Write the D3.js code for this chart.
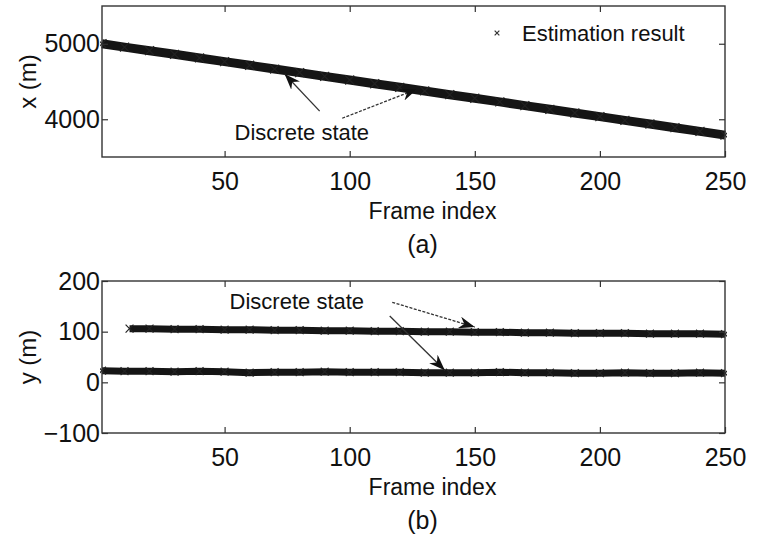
<!DOCTYPE html>
<html>
<head>
<meta charset="utf-8">
<script src="https://cdn.jsdelivr.net/npm/d3@7"></script>
<style>
  body { margin: 0; background: #fff; }
  text { font-family: "Liberation Sans", Arial, sans-serif; fill: #111; }
</style>
</head>
<body>
<script>
// frames (every 10 frames)
var framesA = [1, 10, 20, 30, 40, 50, 60, 70, 80, 90, 100, 110, 120, 130, 140, 150, 160, 170, 180, 190, 200, 210, 220, 230, 240, 250];
var xEst = [5000, 4955, 4908, 4860, 4812, 4763, 4715, 4665, 4617, 4568, 4520, 4470, 4423, 4375, 4325, 4278, 4230, 4180, 4132, 4083, 4035, 3985, 3937, 3888, 3840, 3790];

var framesB1 = [12, 20, 30, 40, 50, 60, 70, 80, 90, 100, 110, 120, 130, 140, 150, 160, 170, 180, 190, 200, 210, 220, 230, 240, 250];
var yEst1 = [106, 106, 105, 105, 104, 104, 103, 103, 102, 102, 101, 101, 100, 100, 99, 99, 98, 98, 97, 97, 97, 96, 96, 96, 95];
var framesB2 = framesA;
var yEst2 = [23, 22, 22, 21, 22, 21, 19, 20, 20, 21, 20, 20, 20, 19, 19, 19, 20, 19, 19, 18, 18, 19, 18, 18, 19, 18];

var xTicks = [50, 100, 150, 200, 250];
var yTicksA = [4000, 5000];
var yTicksB = [-100, 0, 100, 200];

// annotation arrows, in data units [frame, value]
var arrowsA = [
  {from: [88, 4107], to: [74, 4600], dash: null},
  {from: [97, 4013], to: [127, 4400], dash: "3,1.5"}
];
var arrowsB = [
  {from: [117, 158], to: [150, 109], dash: "3,1.5"},
  {from: [116, 131], to: [138, 24], dash: null}
];

var W = 764, H = 536;
var left = 102, pw = 623;

var svg = d3.select("body").append("svg")
  .attr("width", W).attr("height", H);

var defs = svg.append("defs");
defs.append("marker")
  .attr("id", "head")
  .attr("viewBox", "0 0 16 12")
  .attr("refX", 16).attr("refY", 6)
  .attr("markerWidth", 16).attr("markerHeight", 12)
  .attr("markerUnits", "userSpaceOnUse")
  .attr("orient", "auto")
  .append("path")
  .attr("d", "M0,0 L16,6 L0,12 L5,6 Z")
  .attr("fill", "#111");

var x = d3.scaleLinear().domain([1, 250]).range([0, pw]);

function panel(top, ph, yDomain, yTicks, yLabel, sub, series, arrows, note) {
  var y = d3.scaleLinear().domain(yDomain).range([ph, 0]);
  var g = svg.append("g").attr("transform", "translate(" + left + "," + top + ")");

  var clipId = "clip" + top;
  defs.append("clipPath").attr("id", clipId)
    .append("rect").attr("x", -2).attr("width", pw + 4).attr("height", ph);

  var plot = g.append("g").attr("clip-path", "url(#" + clipId + ")");

  // series: dense estimates drawn as a thick band of x markers
  series.forEach(function(s) {
    var pts = s.f.map(function(f, i) { return [f, s.v[i]]; });
    plot.append("path")
      .datum(pts)
      .attr("d", d3.line().x(function(d) { return x(d[0]); }).y(function(d) { return y(d[1]); }))
      .attr("fill", "none")
      .attr("stroke", "#151515")
      .attr("stroke-width", s.w)
      .attr("stroke-linecap", "butt");
    plot.selectAll(null)
      .data(pts)
      .enter()
      .append("path")
      .attr("d", d3.symbol(d3.symbolTimes, s.w * 6))
      .attr("transform", function(d) { return "translate(" + x(d[0]) + "," + y(d[1]) + ")"; })
      .attr("fill", "none")
      .attr("stroke", "#222")
      .attr("stroke-width", 1.2);
  });

  // arrows
  g.selectAll(null)
    .data(arrows)
    .enter()
    .append("line")
    .attr("x1", function(d) { return x(d.from[0]); })
    .attr("y1", function(d) { return y(d.from[1]); })
    .attr("x2", function(d) { return x(d.to[0]); })
    .attr("y2", function(d) { return y(d.to[1]); })
    .attr("stroke", "#333")
    .attr("stroke-width", 1.3)
    .attr("stroke-dasharray", function(d) { return d.dash; })
    .attr("marker-end", "url(#head)");

  g.append("text")
    .attr("x", x(note[0]))
    .attr("y", y(note[1]))
    .attr("font-size", "22px")
    .text("Discrete state");

  // axes, ticks pointing inward like MATLAB
  g.append("g").attr("transform", "translate(0," + ph + ")")
    .call(d3.axisBottom(x).tickValues(xTicks).tickSizeInner(-6).tickSizeOuter(0).tickPadding(15));
  g.append("g")
    .call(d3.axisTop(x).tickValues(xTicks.slice(0, 4)).tickSizeInner(-6).tickSizeOuter(0).tickFormat(""));
  g.append("g")
    .call(d3.axisLeft(y).tickValues(yTicks).tickFormat(d3.format("d")).tickSizeInner(-6).tickSizeOuter(0).tickPadding(2));
  g.append("g").attr("transform", "translate(" + pw + ",0)")
    .call(d3.axisRight(y).tickValues(yTicks).tickSizeInner(-6).tickSizeOuter(0).tickFormat(""));

  g.selectAll(".domain").remove();
  g.selectAll(".tick line").attr("stroke", "#333").attr("stroke-width", 1.2);
  g.selectAll(".tick text").attr("font-size", "25px").attr("font-family", "Liberation Sans, Arial, sans-serif").attr("fill", "#111");

  g.append("rect")
    .attr("width", pw).attr("height", ph)
    .attr("fill", "none")
    .attr("stroke", "#333")
    .attr("stroke-width", 1.4);

  g.append("text")
    .attr("x", pw / 2 + 19)
    .attr("y", ph + 62)
    .attr("text-anchor", "middle")
    .attr("font-size", "23px")
    .text("Frame index");

  g.append("text")
    .attr("x", pw / 2 + 9)
    .attr("y", ph + 96)
    .attr("text-anchor", "middle")
    .attr("font-size", "25px")
    .text(sub);

  g.append("text")
    .attr("transform", "translate(-66," + (ph / 2) + ") rotate(-90)")
    .attr("text-anchor", "middle")
    .attr("font-size", "24px")
    .text(yLabel);

  return g;
}

var gA = panel(6, 151, [3500, 5500], yTicksA, "x (m)", "(a)",
  [{f: framesA, v: xEst, w: 9}], arrowsA, [54, 3720]);

// legend of panel (a)
var leg = gA.append("g").attr("transform", "translate(395,27)");
leg.append("path")
  .attr("d", d3.symbol(d3.symbolTimes, 16))
  .attr("fill", "none").attr("stroke", "#333").attr("stroke-width", 1.2);
leg.append("text")
  .attr("x", 25).attr("y", 8)
  .attr("font-size", "22px")
  .text("Estimation result");

panel(281, 152, [-100, 200], yTicksB, "y (m)", "(b)",
  [{f: framesB1, v: yEst1, w: 7}, {f: framesB2, v: yEst2, w: 7}], arrowsB, [52, 145]);
</script>
</body>
</html>
